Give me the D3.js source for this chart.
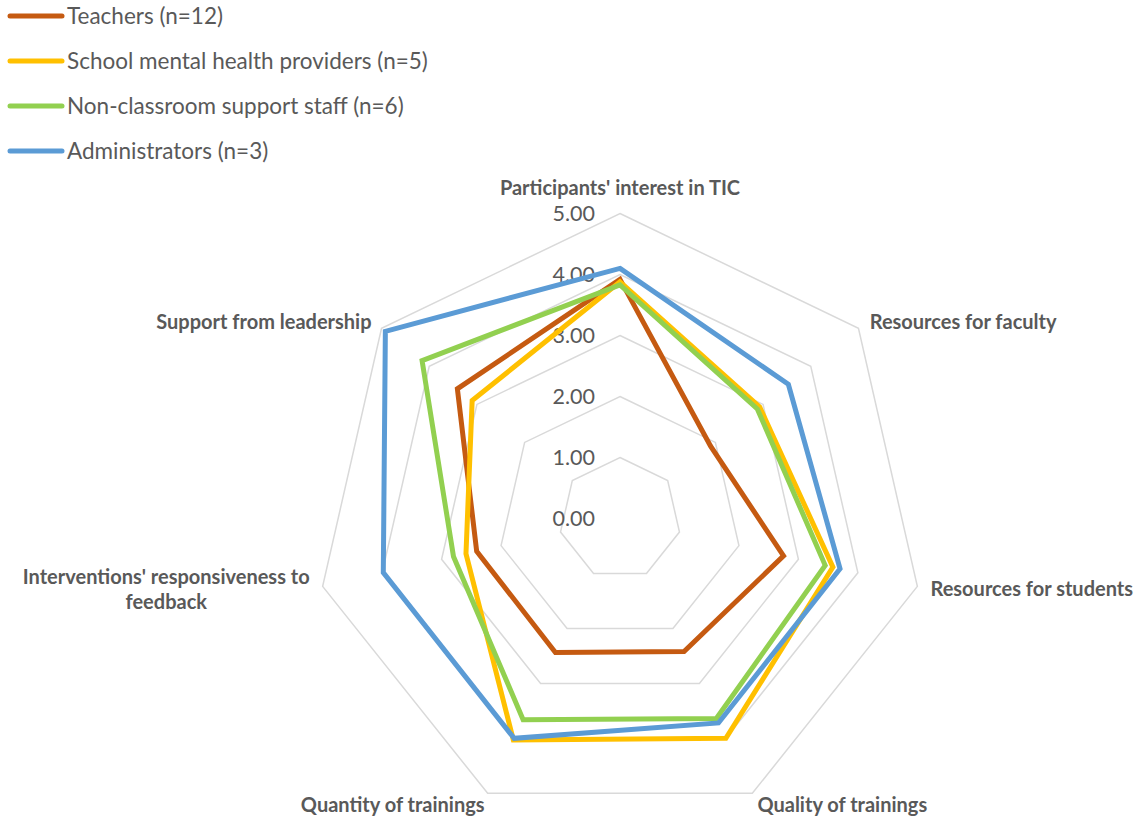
<!DOCTYPE html>
<html>
<head>
<meta charset="utf-8">
<script src="https://cdn.jsdelivr.net/npm/d3@7"></script>
<style>
  html, body { margin: 0; padding: 0; background: #fff; }
  svg { display: block; font-family: Lato, "Open Sans", sans-serif; }
</style>
</head>
<body>
<svg id="chart" width="1138" height="818"></svg>
<script>
// Survey dimensions (one spoke each, clockwise from the top)
const categories = [
  "Participants' interest in TIC",
  "Resources for faculty",
  "Resources for students",
  "Quality of trainings",
  "Quantity of trainings",
  "Interventions' responsiveness to feedback",
  "Support from leadership"
];

// Mean ratings per respondent group
const teachers       = [3.92, 1.90, 2.75, 2.42, 2.44, 2.41, 3.41];
const mentalHealth   = [3.88, 2.93, 3.58, 4.00, 4.03, 2.59, 3.10];
const supportStaff   = [3.83, 2.88, 3.45, 3.64, 3.66, 2.80, 4.15];
const administrators = [4.10, 3.53, 3.70, 3.72, 4.00, 3.98, 4.92];

const seriesNames  = ["Teachers (n=12)", "School mental health providers (n=5)", "Non-classroom support staff (n=6)", "Administrators (n=3)"];
const seriesColors = ["#C55A11", "#FFC000", "#92D050", "#5B9BD5"];
const tickValues   = [0, 1, 2, 3, 4, 5];

const series = [teachers, mentalHealth, supportStaff, administrators].map((values, i) => ({
  name: seriesNames[i], color: seriesColors[i], values
}));

const svg = d3.select("#chart");
const cx = 620, cy = 518.5;
const r = d3.scaleLinear().domain([0, 5]).range([0, 305]);
const angle = d3.scaleLinear().domain([0, categories.length]).range([0, 2 * Math.PI]);
const pt = (i, v) => [cx + r(v) * Math.sin(angle(i)), cy - r(v) * Math.cos(angle(i))];

// Grid rings
const g = svg.append("g");
const ringLine = d3.line().curve(d3.curveLinearClosed);
g.selectAll("path.ring").data(tickValues.filter(t => t > 0)).join("path")
  .attr("class", "ring")
  .attr("d", t => ringLine(categories.map((c, i) => pt(i, t))))
  .attr("fill", "none").attr("stroke", "#d9d9d9").attr("stroke-width", 1.5);

// Tick labels along the top spoke
g.selectAll("text.tick").data(tickValues).join("text")
  .attr("class", "tick")
  .attr("x", cx - 25)
  .attr("y", t => cy - r(t))
  .attr("dy", "0.35em")
  .attr("text-anchor", "end")
  .attr("fill", "#595959")
  .attr("font-size", 21.5)
  .text(d3.format(".2f"));

// Series polygons
const seriesLine = d3.line().curve(d3.curveLinearClosed);
svg.append("g").selectAll("path.series").data(series).join("path")
  .attr("class", "series")
  .attr("d", s => seriesLine(s.values.map((v, i) => pt(i, v))))
  .attr("fill", "none")
  .attr("stroke", s => s.color)
  .attr("stroke-width", 5)
  .attr("stroke-linejoin", "miter");

// Category labels around the outer ring
const labels = svg.append("g")
  .attr("font-size", 20).attr("font-weight", "bold").attr("fill", "#595959");
categories.forEach((c, i) => {
  const [vx, vy] = pt(i, 5);
  const s = Math.sin(angle(i)), co = Math.cos(angle(i));
  const words = c.split(" ");
  const lines = [];
  let cur = "";
  const probe = labels.append("text");
  words.forEach(w => {
    const test = cur ? cur + " " + w : w;
    probe.text(test);
    if (probe.node().getComputedTextLength() > 300 && cur) { lines.push(cur); cur = w; }
    else cur = test;
  });
  lines.push(cur);
  probe.remove();
  const t = labels.append("text").attr("text-anchor", "middle");
  lines.forEach((ln, k) => t.append("tspan").attr("x", 0).attr("dy", k === 0 ? 0 : "1.25em").text(ln));
  const bb = t.node().getBBox();
  let x, y;
  if (Math.abs(s) < 0.1) { x = vx; y = vy - 27; }
  else if (co > 0) { x = s > 0 ? vx + 11 + bb.width / 2 : vx - 10 - bb.width / 2; y = vy - 7; }
  else if (co > -0.5) { x = s > 0 ? vx + 13 + bb.width / 2 : vx - 13 - bb.width / 2; y = vy + 2; }
  else { x = s > 0 ? vx + 5 + bb.width / 2 : vx - 3 - bb.width / 2; y = vy + 11; }
  // vertically centre the block on y
  const mid = bb.y + bb.height / 2;
  t.attr("transform", `translate(${x},${y - mid})`);
});

// Legend
const legend = svg.append("g").selectAll("g").data(series).join("g")
  .attr("transform", (d, i) => `translate(0,${16 + i * 45})`);
legend.append("line")
  .attr("x1", 10).attr("x2", 62).attr("y1", 0).attr("y2", 0)
  .attr("stroke", d => d.color).attr("stroke-width", 5).attr("stroke-linecap", "round");
legend.append("text")
  .attr("x", 67).attr("dy", "0.35em")
  .attr("fill", "#595959").attr("font-size", 22.5)
  .text(d => d.name);
</script>
</body>
</html>
